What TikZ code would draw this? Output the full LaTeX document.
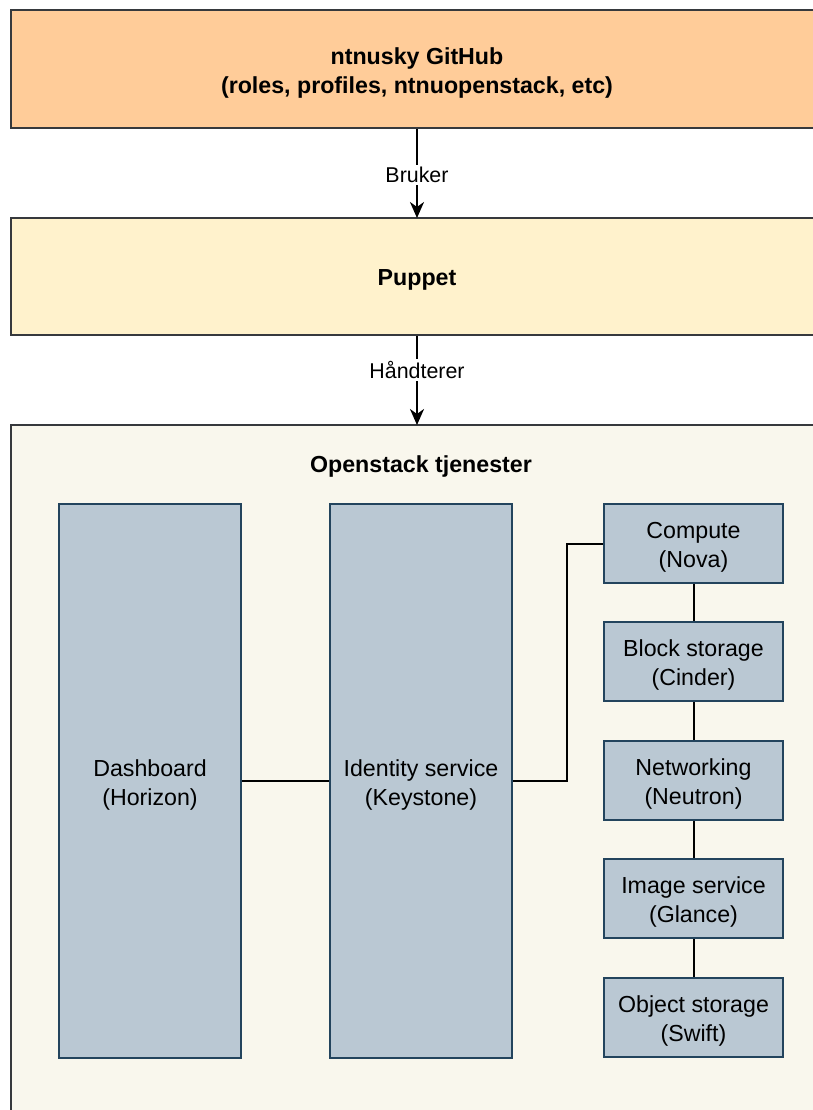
\documentclass[tikz,border=0pt]{standalone}
\usepackage{fontspec}
\setmainfont{Liberation Sans}
\usetikzlibrary{arrows.meta}
\definecolor{ghfill}{HTML}{FFCC99}
\definecolor{pupfill}{HTML}{FFF2CC}
\definecolor{osfill}{HTML}{F9F7ED}
\definecolor{darkstroke}{HTML}{36393D}
\definecolor{svcfill}{HTML}{BAC8D3}
\definecolor{svcstroke}{HTML}{23445D}
\tikzset{
  bigbox/.style={draw=darkstroke, line width=1pt, inner sep=0pt},
  boldtxt/.style={inner sep=0pt, align=center, yshift=-1.75pt,
    font=\fontsize{11.6}{14.5}\selectfont\bfseries},
  plaintxt/.style={inner sep=0pt, align=center, yshift=-1.75pt,
    font=\fontsize{11.6}{14.5}\selectfont},
  svcbox/.style={draw=svcstroke, fill=svcfill, line width=1pt, inner sep=0pt},
  smallsvc/.style={svcbox, minimum width=89.5pt, minimum height=39.5pt},
  tallsvc/.style={svcbox, minimum width=91pt, minimum height=277pt},
  conn/.style={line width=1pt, black},
  flow/.style={line width=1pt, black, -{Stealth[length=8pt, width=7pt, inset=2.5pt]}},
  elabel/.style={fill=white, inner sep=1pt, font=\fontsize{10.7}{13}\selectfont}
}
\begin{document}
\begin{tikzpicture}[x=0.5pt, y=-0.5pt]
\useasboundingbox (0,0) rectangle (813,1110);
\clip (0,0) rectangle (813,1110);
\node[bigbox, fill=ghfill, minimum width=406pt, minimum height=59pt,
  label={[boldtxt]center:{ntnusky GitHub\\(roles, profiles, ntnuopenstack, etc)}}] (gh) at (417,69) {};
\node[bigbox, fill=pupfill, minimum width=406pt, minimum height=58.5pt,
  label={[boldtxt]center:Puppet}] (pup) at (417,276.5) {};
\node[bigbox, fill=osfill, minimum width=410pt, minimum height=357.5pt] (os) at (421,782.5) {};
\node[boldtxt, yshift=1.75pt] (ostitle) at (421,466) {Openstack tjenester};
\coordinate (pupin) at (417,218);
\coordinate (osin) at (417,425);
\draw[flow] (gh.south -| pupin) -- (pupin) node[elabel, pos=0.52] (lb1) {Bruker};
\draw[flow] (pup.south -| osin) -- (osin) node[elabel, pos=0.38] (lb2) {Håndterer};

\node[tallsvc, label={[plaintxt]center:{Dashboard\\(Horizon)}}] (dash) at (150,781) {};
\node[tallsvc, label={[plaintxt]center:{Identity service\\(Keystone)}}] (ks) at (421,781) {};
\node[smallsvc, label={[plaintxt]center:{Compute\\(Nova)}}] (nova) at (693.5,543.5) {};
\node[smallsvc, label={[plaintxt]center:{Block storage\\(Cinder)}}] (cinder) at (693.5,661.5) {};
\node[smallsvc, label={[plaintxt]center:{Networking\\(Neutron)}}] (neutron) at (693.5,780.5) {};
\node[smallsvc, label={[plaintxt]center:{Image service\\(Glance)}}] (glance) at (693.5,898.5) {};
\node[smallsvc, label={[plaintxt]center:{Object storage\\(Swift)}}] (swift) at (693.5,1017.5) {};

\draw[conn] (dash.east) -- (ks.west);
\draw[conn] (ks.east) -- ++(54,0) |- (nova.west);
\draw[conn] (nova.south) -- (cinder.north);
\draw[conn] (cinder.south) -- (neutron.north);
\draw[conn] (neutron.south) -- (glance.north);
\draw[conn] (glance.south) -- (swift.north);
\end{tikzpicture}
\end{document}
